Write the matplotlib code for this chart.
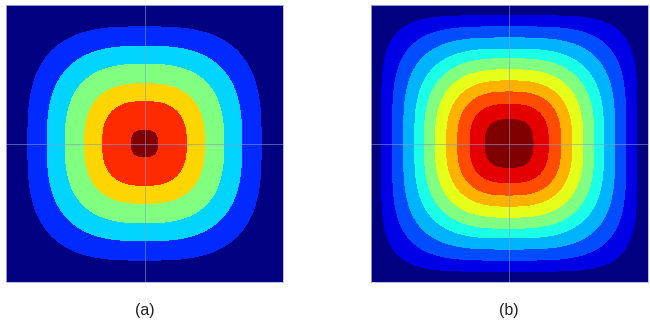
#!/usr/bin/env python3

import numpy as np
import matplotlib
matplotlib.use('Agg')
import matplotlib.pyplot as plt

# contour boundaries, outer -> inner
# half-width on the centre lines (fraction of the half box) and the
# superellipse exponent that fits where each one crosses the diagonal
a_radius = [0.84, 0.70, 0.57, 0.43, 0.30, 0.094]
a_power = [3.0, 2.8, 2.7, 2.6, 2.6, 2.6]

b_radius = [0.92, 0.84, 0.76, 0.68, 0.61, 0.53, 0.45, 0.37, 0.28, 0.17]
b_power = [5.0, 3.9, 3.4, 3.1, 2.9, 2.8, 2.7, 2.7, 2.7, 2.7]

panel_labels = ['(a)', '(b)']


def jet_colors(n):
    # old-style jet (dark blue -> dark red), sampled evenly
    v = np.linspace(0, 1, n)
    r = np.clip(np.minimum(4 * v - 1.5, -4 * v + 4.5), 0, 1)
    g = np.clip(np.minimum(4 * v - 0.5, -4 * v + 3.5), 0, 1)
    b = np.clip(np.minimum(4 * v + 0.5, -4 * v + 2.5), 0, 1)
    return np.column_stack([r, g, b])


def band_field(radius, power, n=700, width=0.004):
    x = np.linspace(-1, 1, n)
    X, Y = np.meshgrid(x, x)
    F = np.zeros_like(X)
    for r, p in zip(radius, power):
        g = (np.abs(X) ** p + np.abs(Y) ** p) ** (1.0 / p)
        F += np.clip(0.5 + (r - g) / width, 0, 1)
    return X, Y, F


def draw_panel(ax, radius, power):
    X, Y, F = band_field(radius, power)
    nb = len(radius) + 1
    levels = np.arange(nb + 1) - 0.5
    cs = ax.contourf(X, Y, F, levels=levels, colors=jet_colors(nb))
    # hide the hairline seams between filled bands
    cs.set_edgecolor('face')
    cs.set_linewidth(0.4)
    # thin cross through the middle
    ax.axhline(0, color='#8899cc', lw=0.7, alpha=0.6)
    ax.axvline(0, color='#8899cc', lw=0.7, alpha=0.6)
    ax.set_xlim(-1, 1)
    ax.set_ylim(-1, 1)
    ax.set_xticks([])
    ax.set_yticks([])
    for sp in ax.spines.values():
        sp.set_color('#aab4dd')
        sp.set_linewidth(0.6)


def main():
    fig = plt.figure(figsize=(6.5, 3.24), dpi=100)
    ax_a = fig.add_axes([6 / 650, 42 / 324, 277 / 650, 277 / 324])
    ax_b = fig.add_axes([370.7 / 650, 42 / 324, 277 / 650, 277 / 324])

    draw_panel(ax_a, a_radius, a_power)
    draw_panel(ax_b, b_radius, b_power)

    for ax, lab in zip([ax_a, ax_b], panel_labels):
        pos = ax.get_position()
        fig.text(pos.x0 + pos.width / 2, 14 / 324, lab, ha='center', va='center',
                 fontsize=11.5, family='Liberation Sans', color='#222222')

    fig.savefig('out.png', dpi=100)
    return 0


if __name__ == '__main__':
    exit(main())
